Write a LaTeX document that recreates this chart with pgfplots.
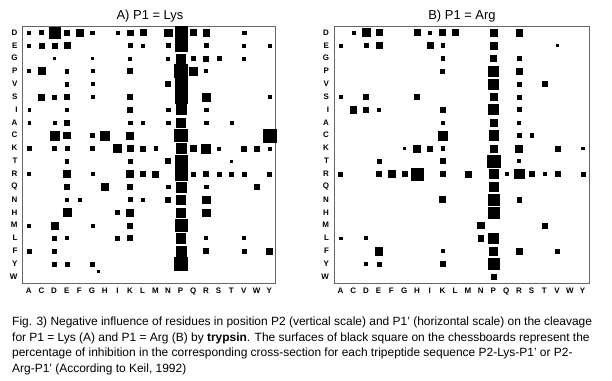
\documentclass[border=0pt]{standalone}
\usepackage{pgfplots}
\pgfplotsset{compat=1.18}
\usepackage{pgfplotstable}
\usepackage{fontspec}
\setmainfont{Liberation Sans}

% x: column index (A C D E F G H I K L M N P Q R S T V W Y -> 0..19)
% y: row index (D E G P V S I A C K T R Q N H M L F Y W -> 0..19)
% s: side of the black square (px)
\pgfplotstableread{
x y s
0 0 3
1 0 4
2 0 11
3 0 5
4 0 7
5 0 3.5
7 0 3.5
8 0 5.5
9 0 6
11 0 7.5
12 0 12
13 0 6
14 0 6.5
17 0 3.5
0 1 3
1 1 5
2 1 5
3 1 6
8 1 4.5
9 1 3
11 1 3.5
12 1 12
14 1 3.5
17 1 3
19 1 3
2 2 2.5
5 2 2.5
8 2 3
11 2 3
12 2 9
13 2 4
14 2 5
15 2 4
17 2 3
0 3 3
1 3 7
3 3 3.5
5 3 3
8 3 5
12 3 13
13 3 8
14 3 3
3 4 3.5
5 4 3
11 4 5
12 4 12
1 5 6
2 5 4
3 5 5
5 5 3
8 5 5
12 5 12
14 5 8
19 5 3
0 6 2.5
3 6 3
8 6 5
11 6 3.5
12 6 10
14 6 3.5
0 7 2.5
2 7 3
3 7 5
8 7 3.5
9 7 2.5
11 7 3.5
12 7 9
14 7 3.5
16 7 3
2 8 9
3 8 6.5
5 8 4
6 8 9
8 8 7
12 8 12.5
19 8 13
0 9 3.5
2 9 3.5
3 9 4
5 9 4
7 9 8
8 9 6
9 9 5
10 9 3.5
12 9 10
13 9 6
14 9 9
15 9 3
17 9 5
18 9 5
19 9 3
3 10 3.5
8 10 4
11 10 5
12 10 12
16 10 2.5
0 11 3
3 11 6.5
5 11 3
8 11 7
9 11 5
10 11 6
12 11 12
13 11 4
14 11 5
15 11 4
16 11 4
17 11 4
19 11 4
3 12 5
6 12 7
8 12 5
11 12 3.5
12 12 10
14 12 3.5
18 12 5
3 13 3.5
4 13 3.5
8 13 4
9 13 2.5
11 13 5
12 13 9
14 13 7.5
3 14 8
7 14 4
8 14 7
12 14 9
14 14 7.5
0 15 3
2 15 7
5 15 3
8 15 5
12 15 12
2 16 4
3 16 3
7 16 4
8 16 5
12 16 9.5
14 16 3
17 16 3
0 17 4
2 17 4
12 17 10
14 17 5
17 17 3.5
19 17 6
2 18 4
3 18 4
5 18 4
12 18 13
5.45 18.6 2
}\tabA

\pgfplotstableread{
x y s
1 0 3
2 0 8
3 0 6
6 0 6
7 0 3
8 0 6
9 0 6
12 0 7
14 0 6.5
0 1 3
2 1 3.5
3 1 6
7 1 6
8 1 3.5
12 1 7
17 1 2.5
8 2 3.5
12 2 6
14 2 4
8 3 4
12 3 10
14 3 6
12 4 10
14 4 4
16 4 5
0 5 3
2 5 5
6 5 5
12 5 7
14 5 4
1 6 6.5
2 6 5
3 6 2.5
8 6 5
12 6 10
14 6 4
8 7 3
12 7 6.5
14 7 3
8 8 9
12 8 9.5
14 8 3.5
15 8 3.5
5 9 2.5
6 9 7
7 9 5
8 9 3.5
12 9 7
14 9 7
17 9 5
19 9 2.5
3 10 4
8 10 5
12 10 12.5
14 10 3
0 11 4
3 11 5
4 11 7
5 11 5
6 11 12
8 11 5.5
10 11 6
12 11 9
13 11 3
14 11 9.5
15 11 5.5
16 11 3.5
17 11 5
19 11 4
12 12 9
8 13 6
12 13 11
14 13 4.5
12 14 11.5
11 15 6.5
16 15 5
0 16 2.5
2 16 3
11 16 5.5
12 16 10
3 17 7.5
8 17 3
12 17 8
14 17 6
17 17 3.5
2 18 3
3 18 4
8 18 5
12 18 11
12 19 5
}\tabB

\pgfplotsset{
  mat/.style={
    scale only axis, height=257bp,
    xmin=-0.5, xmax=19.5, ymin=-0.5, ymax=19.5, y dir=reverse,
    xtick={0,...,19}, ytick={0,...,19},
    xticklabels={A,C,D,E,F,G,H,I,K,L,M,N,P,Q,R,S,T,V,W,Y},
    yticklabels={D,E,G,P,V,S,I,A,C,K,T,R,Q,N,H,M,L,F,Y,W},
    major tick length=0pt,
    tick label style={font=\bfseries\fontsize{8}{8}\selectfont},
    yticklabel style={xshift=-1.5bp},
    xticklabel style={yshift=-1bp},
    axis line style={draw=black!60, line width=1pt},
    anchor=north west, clip=false,
  },
  sq/.style={
    scatter, only marks, mark=square*,
    scatter/use mapped color={draw=black, fill=black},
    mark options={line width=0.1pt},
    visualization depends on={0.5*\thisrow{s} \as \msz},
    scatter/@pre marker code/.append style={/tikz/mark size=\msz},
  },
}

\begin{document}
\begin{tikzpicture}
\path[use as bounding box] (0,0) rectangle (612bp,381bp);

\node[font=\fontsize{13}{13}\selectfont] at (150bp,365bp) {A) P1 = Lys};
\node[font=\fontsize{13}{13}\selectfont] at (462bp,365bp) {B) P1 = Arg};

\begin{axis}[mat, width=253bp, at={(22.5bp,355bp)}]
\addplot[sq] table[x=x, y=y] {\tabA};
\end{axis}

\begin{axis}[mat, width=255bp, at={(334bp,355bp)}]
\addplot[sq] table[x=x, y=y] {\tabB};
\end{axis}

\node[anchor=north west, inner sep=0pt, align=left,
      font=\fontsize{12}{15.5}\selectfont] at (12bp,64bp)
{Fig. 3) Negative influence of residues in position P2 (vertical scale) and P1’ (horizontal scale) on the cleavage\\
for P1 = Lys (A) and P1 = Arg (B) by \textbf{trypsin}. The surfaces of black square on the chessboards represent the\\
percentage of inhibition in the corresponding cross-section for each tripeptide sequence P2-Lys-P1’ or P2-\\
Arg-P1’ (According to Keil, 1992)};
\end{tikzpicture}
\end{document}
